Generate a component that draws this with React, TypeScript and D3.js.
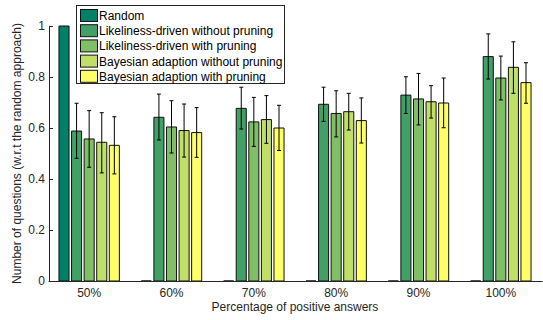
import React, { useEffect, useRef } from "react"
import * as d3 from "d3"

const categories = ["50%", "60%", "70%", "80%", "90%", "100%"]

const series = [
  "Random",
  "Likeliness-driven without pruning",
  "Likeliness-driven with pruning",
  "Bayesian adaption without pruning",
  "Bayesian adaption with pruning",
]

// MATLAB "summer" colormap, 5 steps
const colors = ["#008066", "#40a066", "#80bf66", "#bfdf66", "#ffff66"]

// mean values per series, one per category
const random = [1, 0, 0, 0, 0, 0]
const likelinessNoPrune = [0.588, 0.642, 0.677, 0.693, 0.729, 0.88]
const likelinessPrune = [0.557, 0.604, 0.624, 0.657, 0.714, 0.796]
const bayesNoPrune = [0.544, 0.59, 0.633, 0.664, 0.703, 0.838]
const bayesPrune = [0.532, 0.582, 0.6, 0.629, 0.698, 0.778]

// error bar bounds (lower / upper); null = no error bar
const randomLow = [null, null, null, null, null, null]
const randomHigh = [null, null, null, null, null, null]
const likelinessNoPruneLow = [0.481, 0.553, 0.596, 0.626, 0.657, 0.792]
const likelinessNoPruneHigh = [0.697, 0.733, 0.76, 0.76, 0.801, 0.969]
const likelinessPruneLow = [0.446, 0.502, 0.528, 0.565, 0.612, 0.71]
const likelinessPruneHigh = [0.668, 0.707, 0.72, 0.746, 0.814, 0.882]
const bayesNoPruneLow = [0.424, 0.486, 0.54, 0.592, 0.639, 0.736]
const bayesNoPruneHigh = [0.66, 0.694, 0.727, 0.736, 0.766, 0.938]
const bayesPruneLow = [0.42, 0.485, 0.512, 0.541, 0.601, 0.697]
const bayesPruneHigh = [0.644, 0.68, 0.689, 0.718, 0.796, 0.856]

const yTicks = [0, 0.2, 0.4, 0.6, 0.8, 1]

const values = [random, likelinessNoPrune, likelinessPrune, bayesNoPrune, bayesPrune]
const lows = [randomLow, likelinessNoPruneLow, likelinessPruneLow, bayesNoPruneLow, bayesPruneLow]
const highs = [randomHigh, likelinessNoPruneHigh, likelinessPruneHigh, bayesNoPruneHigh, bayesPruneHigh]

const App = () => {
  const chart = useRef<SVGSVGElement>(null)

  useEffect(() => {
    const svg = d3.select(chart.current)
    svg.selectAll("*").remove()

    const font = "'Liberation Sans', Arial, sans-serif"
    const axisColor = "#262626"

    const x0 = d3.scaleBand().domain(categories).range([48, 542]).padding(0)
    const x1 = d3.scaleBand().domain(series).range([-30.2, 30.2]).paddingInner(0.2)
    const y = d3.scaleLinear().domain([0, 1]).range([281, 26])

    const rows = []
    categories.forEach((c, ci) => {
      series.forEach((s, si) => {
        rows.push({ c, s, si, v: values[si][ci], lo: lows[si][ci], hi: highs[si][ci] })
      })
    })

    const xOf = (d) => x0(d.c) + x0.bandwidth() / 2 + x1(d.s)

    // bars (drawn as paths so zero-height bars still show their edge)
    svg
      .append("g")
      .selectAll("path")
      .data(rows)
      .enter()
      .append("path")
      .attr("d", (d) => {
        const xa = xOf(d)
        const xb = xa + x1.bandwidth()
        return `M${xa},${y(0)}V${y(d.v)}H${xb}V${y(0)}Z`
      })
      .attr("fill", (d) => colors[d.si])
      .attr("stroke", "#111")
      .attr("stroke-width", 1)

    // error bars
    const err = svg
      .append("g")
      .selectAll("g")
      .data(rows.filter((d) => d.lo !== null))
      .enter()
      .append("g")
      .attr("stroke", "#000")
      .attr("stroke-width", 1)
    const cx = (d) => xOf(d) + x1.bandwidth() / 2
    err
      .append("line")
      .attr("x1", cx)
      .attr("x2", cx)
      .attr("y1", (d) => y(d.lo))
      .attr("y2", (d) => y(d.hi))
    err
      .append("line")
      .attr("x1", (d) => cx(d) - 2)
      .attr("x2", (d) => cx(d) + 2)
      .attr("y1", (d) => y(d.hi))
      .attr("y2", (d) => y(d.hi))
    err
      .append("line")
      .attr("x1", (d) => cx(d) - 2)
      .attr("x2", (d) => cx(d) + 2)
      .attr("y1", (d) => y(d.lo))
      .attr("y2", (d) => y(d.lo))

    // axes
    const yAxis = d3
      .axisLeft(y)
      .tickValues(yTicks)
      .tickFormat(d3.format("~g"))
      .tickSizeInner(-4)
      .tickSizeOuter(0)
      .tickPadding(4)
    const gy = svg.append("g").attr("transform", "translate(49,0)").call(yAxis)

    const xAxis = d3.axisBottom(x0).tickSize(0).tickPadding(7.5)
    const gx = svg.append("g").attr("transform", `translate(0,${y(0)})`).call(xAxis)

    ;[gx, gy].forEach((g) => {
      g.selectAll("path,line").attr("stroke", axisColor)
      g.selectAll("text").attr("fill", axisColor).style("font-family", font).style("font-size", "12px")
    })

    svg
      .append("text")
      .attr("x", 295)
      .attr("y", 311)
      .attr("text-anchor", "middle")
      .attr("fill", axisColor)
      .style("font-family", font)
      .style("font-size", "12px")
      .text("Percentage of positive answers")

    svg
      .append("text")
      .attr("transform", "translate(21,153.5) rotate(-90)")
      .attr("text-anchor", "middle")
      .attr("fill", axisColor)
      .style("font-family", font)
      .style("font-size", "12px")
      .text("Number of questions (w.r.t the random approach)")

    // legend
    const legend = svg.append("g")
    legend
      .append("rect")
      .attr("x", 76.5)
      .attr("y", 5.5)
      .attr("width", 208)
      .attr("height", 78)
      .attr("fill", "#fff")
      .attr("stroke", axisColor)
      .attr("stroke-width", 1)
    const item = legend
      .selectAll("g")
      .data(series)
      .enter()
      .append("g")
      .attr("transform", (d, i) => `translate(0,${9 + i * 15.2})`)
    item
      .append("rect")
      .attr("x", 80.5)
      .attr("y", 0.5)
      .attr("width", 17)
      .attr("height", 12)
      .attr("fill", (d, i) => colors[i])
      .attr("stroke", "#111")
    item
      .append("text")
      .attr("x", 99)
      .attr("y", 11)
      .attr("fill", "#000")
      .style("font-family", font)
      .style("font-size", "12px")
      .text((d) => d)
  }, [])

  return (
    <svg
      ref={chart}
      width={543}
      height={320}
      style={{ position: "absolute", left: 0, top: 0, background: "#fff" }}
    />
  )
}

export default App
